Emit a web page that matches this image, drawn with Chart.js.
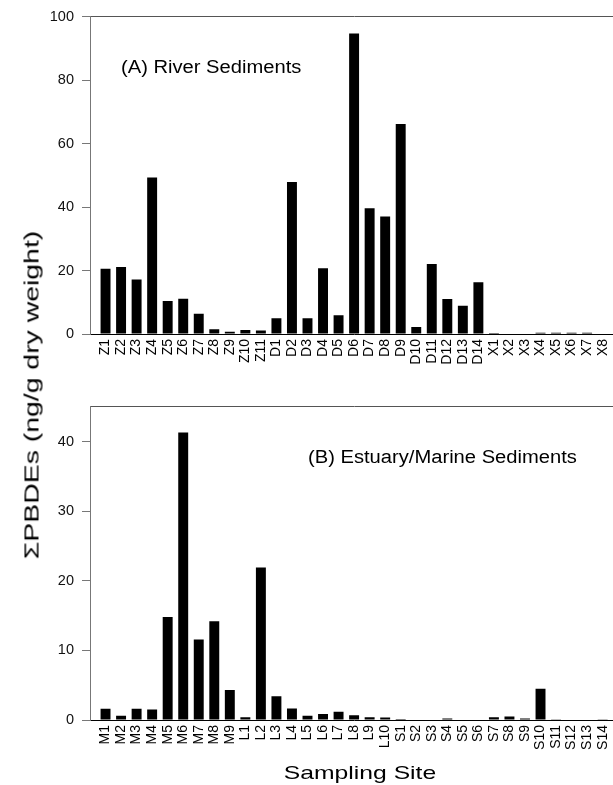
<!DOCTYPE html>
<html>
<head>
<meta charset="utf-8">
<script src="https://cdn.jsdelivr.net/npm/chart.js@4.4.0/dist/chart.umd.min.js"></script>
<style>
  body { margin: 0; background: #fff; overflow: hidden; font-family: "Liberation Sans", Arial, sans-serif; }
  #wrap { position: relative; width: 613px; height: 785px; overflow: hidden; }
  canvas { position: absolute; left: 0; }
  #ytitle {
    position: absolute; left: 32px; top: 395px;
    transform: translate(-50%, -50%) rotate(-90deg) scaleX(1.42);
    font-size: 20px; white-space: nowrap; color: #000;
  }
  #xtitle {
    position: absolute; left: 360px; top: 773px;
    transform: translate(-50%, -50%) scaleX(1.3);
    font-size: 19px; white-space: nowrap; color: #000;
  }
</style>
</head>
<body>
<div id="wrap">
  <canvas id="riverChart" width="640" height="390" style="top:0;width:640px;height:390px"></canvas>
  <canvas id="marineChart" width="640" height="395" style="top:390px;width:640px;height:395px"></canvas>
  <div id="ytitle">ΣPBDEs (ng/g dry weight)</div>
  <div id="xtitle">Sampling Site</div>
</div>
<script>
// site names and ΣPBDE values (ng/g dry weight)
const riverSites = ['Z1','Z2','Z3','Z4','Z5','Z6','Z7','Z8','Z9','Z10','Z11',
  'D1','D2','D3','D4','D5','D6','D7','D8','D9','D10','D11','D12','D13','D14',
  'X1','X2','X3','X4','X5','X6','X7','X8'];
const riverValues = [20.6, 21.1, 17.2, 49.3, 10.4, 11.1, 6.4, 1.5, 0.7, 1.3, 1.1,
  5.0, 47.9, 5.0, 20.7, 5.9, 94.7, 39.6, 37.0, 66.2, 2.2, 22.1, 11.0, 8.9, 16.3,
  0.3, 0, 0, 0.4, 0.4, 0.4, 0.4, 0];

const marineSites = ['M1','M2','M3','M4','M5','M6','M7','M8','M9',
  'L1','L2','L3','L4','L5','L6','L7','L8','L9','L10',
  'S1','S2','S3','S4','S5','S6','S7','S8','S9','S10','S11','S12','S13','S14'];
const marineValues = [1.6, 0.6, 1.6, 1.5, 14.8, 41.3, 11.55, 14.2, 4.3,
  0.4, 21.9, 3.4, 1.65, 0.6, 0.85, 1.2, 0.7, 0.4, 0.35,
  0.15, 0, 0, 0.2, 0, 0, 0.4, 0.5, 0.2, 4.5, 0.1, 0, 0, 0.1];

const riverTicks = [0, 20, 40, 60, 80, 100];
const marineTicks = [0, 10, 20, 30, 40];

const FONT = '"Liberation Sans", Arial, sans-serif';

// draws the "(A) ..." / "(B) ..." caption inside the plot area
const panelLabel = {
  id: 'panelLabel',
  afterDraw(chart, args, opts) {
    const { ctx, chartArea } = chart;
    ctx.save();
    ctx.font = '18px ' + FONT;
    ctx.fillStyle = '#000';
    ctx.textBaseline = 'middle';
    ctx.translate(chartArea.left + opts.dx, chartArea.top + opts.dy);
    ctx.scale(1.12, 1);
    ctx.fillText(opts.text, 0, 0);
    ctx.restore();
  }
};

function makeChart(id, sites, values, yMax, yTicks, caption, captionX, opts) {
  return new Chart(document.getElementById(id), {
    type: 'bar',
    data: {
      datasets: [{
        data: values.map((v, i) => ({ x: i, y: v })),
        backgroundColor: '#000',
        borderWidth: 0,
        barPercentage: 0.64,
        categoryPercentage: 1
      }]
    },
    options: {
      responsive: false,
      animation: false,
      devicePixelRatio: 1,
      layout: { padding: { left: 0, right: 20, top: opts.top, bottom: 0 } },
      plugins: {
        legend: { display: false },
        tooltip: { enabled: false },
        panelLabel: { text: caption, dx: captionX, dy: 51 }
      },
      scales: {
        x: {
          type: 'linear',
          min: -1,
          max: 33,
          offset: false,
          afterFit: s => { s.height = opts.xHeight; },
          grid: { display: true, drawOnChartArea: false, drawTicks: false },
          border: { color: '#000', width: 1 },
          ticks: {
            stepSize: 1,
            autoSkip: false,
            maxRotation: 90,
            minRotation: 90,
            padding: 5,
            color: '#000',
            font: { family: FONT, size: 14 },
            callback: v => sites[v] || ''
          }
        },
        xTop: {
          type: 'linear',
          position: 'top',
          afterFit: s => { s.height = 0; },
          grid: { display: false },
          ticks: { display: false },
          border: { color: '#555', width: 1 }
        },
        y: {
          min: 0,
          max: yMax,
          afterFit: s => { s.width = 90; },
          afterBuildTicks: s => { s.ticks = yTicks.map(v => ({ value: v })); },
          grid: { display: true, drawOnChartArea: false, drawTicks: true, tickLength: 8, color: '#777' },
          border: { color: '#777', width: 1 },
          ticks: {
            padding: 8,
            color: '#111',
            font: { family: FONT, size: 14.5 }
          }
        }
      }
    },
    plugins: [panelLabel]
  });
}

makeChart('riverChart', riverSites, riverValues, 100, riverTicks,
  '(A) River Sediments', 31, { top: 16, xHeight: 56 });
makeChart('marineChart', marineSites, marineValues, 45, marineTicks,
  '(B) Estuary/Marine Sediments', 218, { top: 12, xHeight: 65 });
</script>
</body>
</html>
